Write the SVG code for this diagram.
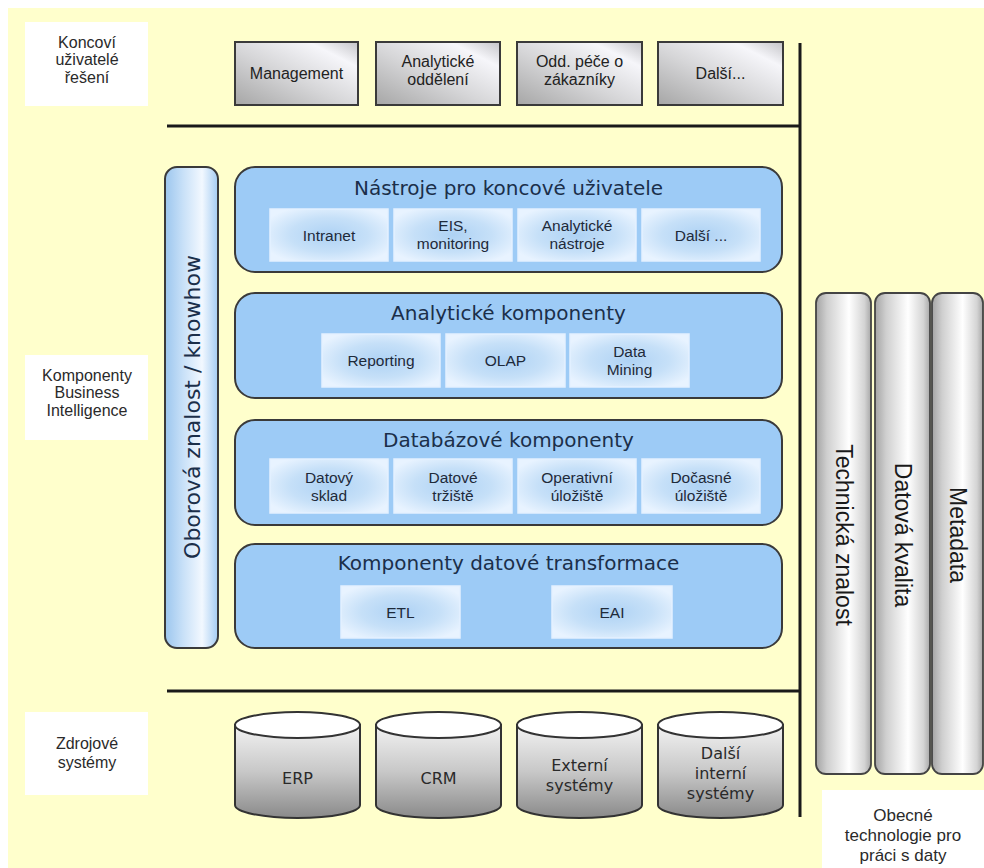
<svg xmlns="http://www.w3.org/2000/svg" width="984" height="868" viewBox="0 0 984 868">
<defs>
<linearGradient id="gBtn" x1="0" y1="1" x2="1" y2="0">
<stop offset="0" stop-color="#A6A6A6"/>
<stop offset="0.45" stop-color="#D6D6D8"/>
<stop offset="0.8" stop-color="#F6F6FA"/>
<stop offset="1" stop-color="#C4C4C8"/>
</linearGradient>
<linearGradient id="gCol" x1="0" y1="0" x2="1" y2="0">
<stop offset="0" stop-color="#A4A4A4"/>
<stop offset="0.2" stop-color="#CFCFCF"/>
<stop offset="0.6" stop-color="#FFFFFF"/>
<stop offset="0.88" stop-color="#D4D4D4"/>
<stop offset="1" stop-color="#A8A8A8"/>
</linearGradient>
<linearGradient id="gBar" x1="0" y1="0" x2="1" y2="0">
<stop offset="0" stop-color="#9CC6EE"/>
<stop offset="0.35" stop-color="#C9E1F8"/>
<stop offset="0.7" stop-color="#F2F8FF"/>
<stop offset="1" stop-color="#A4CCF2"/>
</linearGradient>
<radialGradient id="gIn" cx="0.5" cy="0.5" r="0.6">
<stop offset="0" stop-color="#AED2F4"/>
<stop offset="0.55" stop-color="#C6E0F8"/>
<stop offset="1" stop-color="#E8F3FF"/>
</radialGradient>
<linearGradient id="gCyl" x1="0" y1="0" x2="0" y2="1">
<stop offset="0" stop-color="#F2F2F2"/>
<stop offset="0.5" stop-color="#C8C8C8"/>
<stop offset="1" stop-color="#8A8A8A"/>
</linearGradient>
</defs>
<style>
.lbl{fill:#FFFFFF}
.lt{font-family:"Liberation Sans",Arial,sans-serif;font-size:16px;fill:#2A2A2A;text-anchor:middle}
.btn{fill:url(#gBtn);stroke:#3A3A3A;stroke-width:2}
.bt{font-family:"Liberation Sans",Arial,sans-serif;font-size:16px;fill:#222;text-anchor:middle}
.pan{fill:#9DCBF6;stroke:#3A3A3A;stroke-width:2}
.pt{font-family:"DejaVu Sans",Verdana,sans-serif;font-size:20px;fill:#1B2F4A;text-anchor:middle}
.in{fill:url(#gIn);stroke:#E4F1FF;stroke-width:1.5}
.it{font-family:"Liberation Sans",Arial,sans-serif;font-size:15.5px;fill:#1E2A3A;text-anchor:middle}
.bar{fill:url(#gBar);stroke:#3A3A3A;stroke-width:2}
.col{fill:url(#gCol);stroke:#444;stroke-width:1.8}
.ct{font-family:"Liberation Sans",Arial,sans-serif;font-size:23px;fill:#1A1A1A;text-anchor:middle}
.cyl{fill:url(#gCyl);stroke:#333;stroke-width:2}
.cyt{fill:#FFFFFF;stroke:#333;stroke-width:2}
.cyx{font-family:"DejaVu Sans",Verdana,sans-serif;font-size:16px;fill:#2A2A2A;text-anchor:middle}
.div{stroke:#1A1A1A;stroke-width:3;fill:none}
</style>
<rect x="0" y="0" width="984" height="868" fill="#FFFFFF"/>
<rect x="8" y="8" width="976" height="860" fill="#FFFFCC"/>

<g id="label-koncovi">
<rect class="lbl" x="25" y="22" width="123" height="84"/>
<text class="lt" x="87" y="47.5">Koncoví</text>
<text class="lt" x="87" y="65">uživatelé</text>
<text class="lt" x="87" y="82.5">řešení</text>
</g>
<g id="label-komponenty">
<rect class="lbl" x="25" y="355" width="123" height="85"/>
<text class="lt" x="87" y="380.5">Komponenty</text>
<text class="lt" x="87" y="398">Business</text>
<text class="lt" x="87" y="415.5">Intelligence</text>
</g>
<g id="label-zdrojove">
<rect class="lbl" x="25" y="712" width="123" height="83"/>
<text class="lt" x="87" y="748.5">Zdrojové</text>
<text class="lt" x="87" y="767.5">systémy</text>
</g>
<g id="label-obecne">
<rect class="lbl" x="822" y="790" width="162" height="78"/>
<text class="lt" x="903" y="821" style="font-size:17px">Obecné</text>
<text class="lt" x="903" y="841" style="font-size:17px">technologie pro</text>
<text class="lt" x="903" y="861" style="font-size:17px">práci s daty</text>
</g>

<g id="dividers">
<line class="div" x1="167" y1="126" x2="800" y2="126"/>
<line class="div" x1="167" y1="691" x2="800" y2="691"/>
<line class="div" x1="800" y1="43" x2="800" y2="817"/>
</g>

<g id="user-management">
<rect class="btn" x="235" y="42" width="123" height="63"/>
<text class="bt" x="296.5" y="79">Management</text>
</g>
<g id="user-analyticke">
<rect class="btn" x="376" y="42" width="124" height="63"/>
<text class="bt" x="438" y="67">Analytické</text>
<text class="bt" x="438" y="85">oddělení</text>
</g>
<g id="user-odd-pece">
<rect class="btn" x="517" y="42" width="125" height="63"/>
<text class="bt" x="579.5" y="67">Odd. péče o</text>
<text class="bt" x="579.5" y="85">zákazníky</text>
</g>
<g id="user-dalsi">
<rect class="btn" x="658" y="42" width="125" height="63"/>
<text class="bt" x="720.5" y="79">Další...</text>
</g>

<g id="oborova-znalost">
<rect class="bar" x="165" y="167" width="53" height="481" rx="12"/>
<text class="pt" transform="translate(191.5,407) rotate(-90)" x="0" y="8" style="font-size:22px">Oborová znalost / knowhow</text>
</g>

<g id="panel-nastroje">
<rect class="pan" x="235" y="167" width="547" height="105" rx="20"/>
<text class="pt" x="508.5" y="195">Nástroje pro koncové uživatele</text>
<rect class="in" x="270" y="209" width="118" height="52"/>
<text class="it" x="329" y="241">Intranet</text>
<rect class="in" x="394" y="209" width="118" height="52"/>
<text class="it" x="453" y="231">EIS,</text>
<text class="it" x="453" y="249">monitoring</text>
<rect class="in" x="518" y="209" width="118" height="52"/>
<text class="it" x="577" y="231">Analytické</text>
<text class="it" x="577" y="249">nástroje</text>
<rect class="in" x="642" y="209" width="118" height="52"/>
<text class="it" x="701" y="241">Další ...</text>
</g>

<g id="panel-analyticke">
<rect class="pan" x="235" y="293" width="547" height="105" rx="20"/>
<text class="pt" x="508.5" y="320">Analytické komponenty</text>
<rect class="in" x="322" y="334" width="118" height="53"/>
<text class="it" x="381" y="366">Reporting</text>
<rect class="in" x="446" y="334" width="119" height="53"/>
<text class="it" x="505.5" y="366">OLAP</text>
<rect class="in" x="570" y="334" width="119" height="53"/>
<text class="it" x="629.5" y="357">Data</text>
<text class="it" x="629.5" y="375">Mining</text>
</g>

<g id="panel-databazove">
<rect class="pan" x="235" y="420" width="547" height="105" rx="20"/>
<text class="pt" x="508.5" y="447">Databázové komponenty</text>
<rect class="in" x="270" y="459" width="118" height="54"/>
<text class="it" x="329" y="483">Datový</text>
<text class="it" x="329" y="501">sklad</text>
<rect class="in" x="394" y="459" width="118" height="54"/>
<text class="it" x="453" y="483">Datové</text>
<text class="it" x="453" y="501">tržiště</text>
<rect class="in" x="518" y="459" width="118" height="54"/>
<text class="it" x="577" y="483">Operativní</text>
<text class="it" x="577" y="501">úložiště</text>
<rect class="in" x="642" y="459" width="118" height="54"/>
<text class="it" x="701" y="483">Dočasné</text>
<text class="it" x="701" y="501">úložiště</text>
</g>

<g id="panel-transformace">
<rect class="pan" x="235" y="544" width="547" height="104" rx="20"/>
<text class="pt" x="508.5" y="570">Komponenty datové transformace</text>
<rect class="in" x="341" y="586" width="119" height="52"/>
<text class="it" x="400.5" y="618">ETL</text>
<rect class="in" x="552" y="586" width="120" height="52"/>
<text class="it" x="612" y="618">EAI</text>
</g>

<g id="col-technicka">
<rect class="col" x="816" y="293" width="55" height="481" rx="10"/>
<text class="ct" transform="translate(843.5,535) rotate(90)" x="0" y="8">Technická znalost</text>
</g>
<g id="col-datova">
<rect class="col" x="875" y="293" width="55" height="481" rx="10"/>
<text class="ct" transform="translate(902.5,535) rotate(90)" x="0" y="8">Datová kvalita</text>
</g>
<g id="col-metadata">
<rect class="col" x="932" y="293" width="51" height="481" rx="10"/>
<text class="ct" transform="translate(957.5,535) rotate(90)" x="0" y="8">Metadata</text>
</g>

<g id="src-erp">
<path class="cyl" d="M235 725 L235 805 A62.5 13 0 0 0 360 805 L360 725 Z"/>
<ellipse class="cyt" cx="297.5" cy="725" rx="62.5" ry="13"/>
<text class="cyx" x="297.5" y="784">ERP</text>
</g>
<g id="src-crm">
<path class="cyl" d="M376 725 L376 805 A62.5 13 0 0 0 501 805 L501 725 Z"/>
<ellipse class="cyt" cx="438.5" cy="725" rx="62.5" ry="13"/>
<text class="cyx" x="438.5" y="784">CRM</text>
</g>
<g id="src-externi">
<path class="cyl" d="M517 725 L517 805 A62.5 13 0 0 0 642 805 L642 725 Z"/>
<ellipse class="cyt" cx="579.5" cy="725" rx="62.5" ry="13"/>
<text class="cyx" x="579.5" y="771">Externí</text>
<text class="cyx" x="579.5" y="791">systémy</text>
</g>
<g id="src-dalsi">
<path class="cyl" d="M658 725 L658 805 A62.5 13 0 0 0 783 805 L783 725 Z"/>
<ellipse class="cyt" cx="720.5" cy="725" rx="62.5" ry="13"/>
<text class="cyx" x="720.5" y="759">Další</text>
<text class="cyx" x="720.5" y="779">interní</text>
<text class="cyx" x="720.5" y="799">systémy</text>
</g>
</svg>
